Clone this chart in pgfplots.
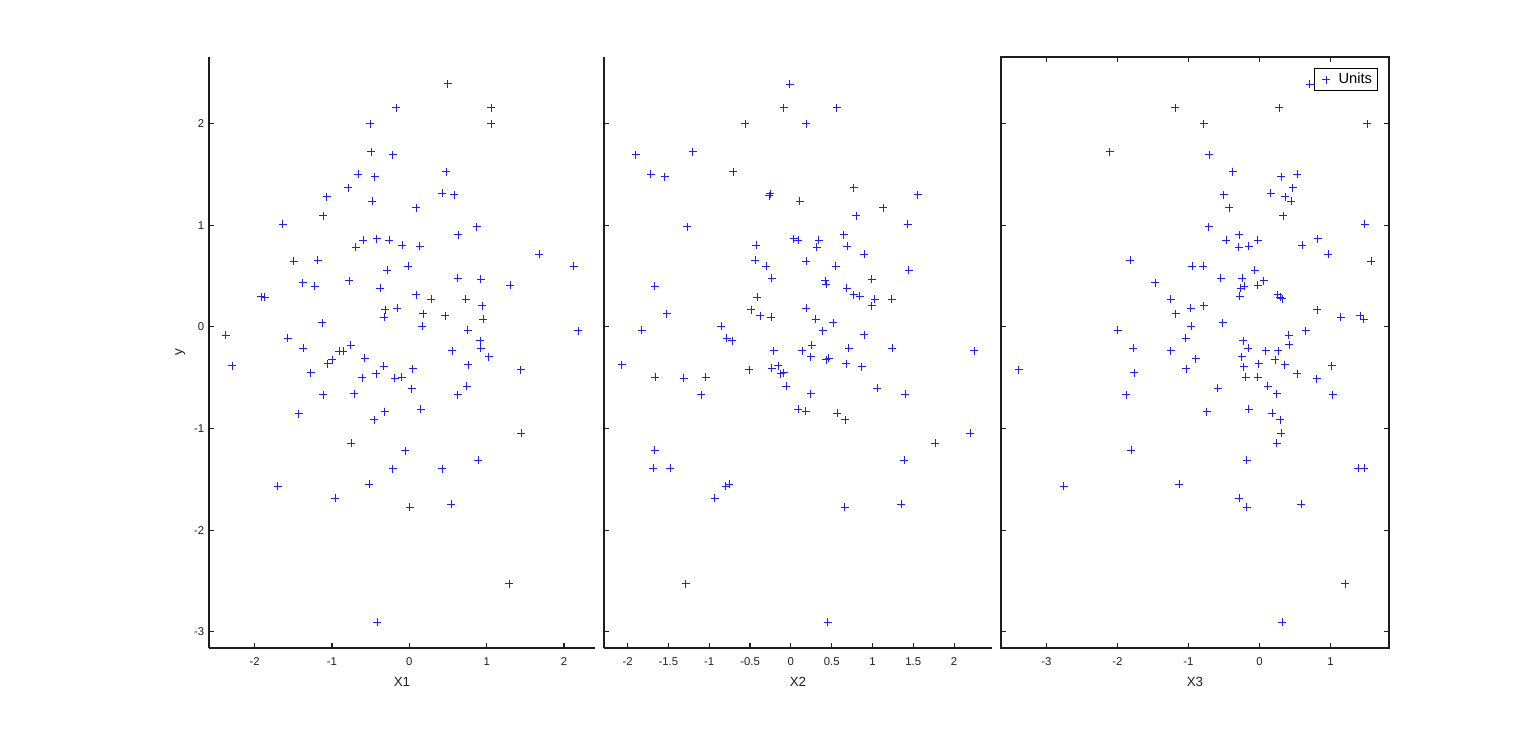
\documentclass[border=0pt]{standalone}
\usepackage{fontspec}
\setmainfont{Liberation Sans}
\usepackage{pgfplots}
\usepackage{pgfplotstable}
\pgfplotsset{compat=1.18}
\definecolor{mblue}{RGB}{30,30,255}
\definecolor{axgray}{RGB}{30,30,30}

\pgfplotstableread{
x y
0.495 2.39
-0.168 2.154
1.058 2.154
-0.503 1.997
1.058 1.997
-0.49 1.722
-0.215 1.693
-0.658 1.5
-0.447 1.477
0.477 1.526
-0.787 1.369
-1.067 1.281
0.426 1.314
0.581 1.301
-0.477 1.235
0.09 1.173
-1.11 1.095
-1.639 1.007
0.869 0.987
0.632 0.908
-0.594 0.853
-0.422 0.869
-0.258 0.85
-0.692 0.781
-0.095 0.801
0.133 0.794
1.682 0.712
-1.497 0.644
-1.183 0.654
2.125 0.595
-0.288 0.556
-0.013 0.595
-1.381 0.435
-1.226 0.402
-0.774 0.454
0.624 0.477
0.925 0.467
1.303 0.412
-0.374 0.379
-1.914 0.297
-1.871 0.291
0.09 0.314
0.284 0.271
0.727 0.271
0.942 0.206
-0.31 0.17
-0.155 0.183
0.181 0.127
0.465 0.108
-0.323 0.095
0.955 0.075
0.168 0.007
-1.127 0.039
-2.374 -0.085
0.753 -0.033
2.185 -0.039
-1.57 -0.111
0.916 -0.137
-1.372 -0.209
-0.903 -0.239
-0.856 -0.239
-0.757 -0.183
0.551 -0.235
0.925 -0.209
1.024 -0.293
-2.293 -0.381
-0.576 -0.309
-1.058 -0.362
-0.994 -0.322
-1.277 -0.45
-0.331 -0.388
-0.426 -0.46
0.043 -0.411
-0.606 -0.499
-0.189 -0.506
-0.099 -0.496
0.761 -0.372
1.437 -0.421
0.03 -0.607
0.744 -0.584
-1.11 -0.666
-0.71 -0.656
0.624 -0.666
-1.428 -0.853
-0.318 -0.833
0.146 -0.813
-0.452 -0.915
1.449 -1.049
-0.748 -1.147
-0.052 -1.219
0.89 -1.314
-0.215 -1.396
0.426 -1.396
-1.703 -1.57
-0.52 -1.55
-0.955 -1.687
0.004 -1.776
0.542 -1.746
1.29 -2.529
-0.413 -2.905
}\dataA

\pgfplotstableread{
x y
-0.012 2.389
-0.085 2.154
0.561 2.154
-0.561 1.997
0.187 1.997
-1.902 1.693
-1.203 1.722
-1.715 1.5
-1.545 1.477
-0.707 1.526
0.768 1.369
-0.252 1.31
-0.268 1.288
1.553 1.301
0.11 1.235
1.13 1.173
0.801 1.095
-1.268 0.987
1.431 1.007
0.646 0.908
0.033 0.869
0.093 0.85
0.341 0.853
-0.427 0.801
0.317 0.781
0.691 0.794
0.902 0.712
-0.439 0.654
-0.305 0.595
0.187 0.644
0.549 0.595
1.443 0.556
-0.232 0.477
0.423 0.454
0.431 0.422
0.992 0.467
-1.667 0.402
0.683 0.379
0.772 0.314
0.846 0.304
-0.411 0.291
1.028 0.271
1.236 0.271
0.988 0.206
-0.484 0.17
0.187 0.183
-1.52 0.127
-0.374 0.108
-0.24 0.095
0.305 0.075
0.516 0.039
-0.854 0.007
0.39 -0.039
-1.829 -0.033
0.902 -0.078
-0.785 -0.111
-0.715 -0.137
0.256 -0.18
-0.211 -0.235
0.142 -0.235
0.707 -0.209
1.24 -0.209
2.248 -0.235
0.244 -0.293
-2.073 -0.372
-1.659 -0.496
-1.313 -0.506
-1.045 -0.496
-0.508 -0.421
-0.232 -0.408
-0.154 -0.381
-0.126 -0.46
-0.085 -0.45
0.431 -0.322
0.463 -0.309
0.675 -0.362
0.87 -0.391
-0.057 -0.584
0.244 -0.656
1.061 -0.604
1.402 -0.663
-1.098 -0.666
0.093 -0.813
0.183 -0.833
0.569 -0.849
0.663 -0.915
2.195 -1.049
1.768 -1.147
-1.667 -1.213
1.39 -1.314
-1.683 -1.393
-1.476 -1.393
-0.797 -1.57
-0.752 -1.55
-0.931 -1.687
0.659 -1.776
1.354 -1.746
-1.289 -2.529
0.451 -2.905
}\dataB

\pgfplotstableread{
x y
0.705 2.389
-1.186 2.154
0.28 2.154
-0.784 1.997
1.512 1.997
-2.11 1.722
-0.709 1.693
-0.378 1.526
0.308 1.477
0.532 1.5
0.467 1.369
-0.504 1.301
0.154 1.314
0.359 1.281
0.443 1.235
-0.429 1.173
0.331 1.095
-0.714 0.987
1.48 1.007
-0.289 0.908
-0.467 0.853
-0.023 0.85
0.821 0.869
-0.294 0.781
-0.154 0.794
0.602 0.801
0.962 0.712
-1.82 0.654
1.573 0.644
-0.947 0.595
-0.793 0.595
-0.07 0.556
-1.466 0.435
-0.546 0.477
-0.247 0.477
0.056 0.454
-0.219 0.402
-0.266 0.379
-0.028 0.412
-1.251 0.271
-0.28 0.301
0.257 0.314
0.289 0.291
0.317 0.275
-0.966 0.183
-0.784 0.206
-1.181 0.127
0.812 0.17
1.144 0.095
1.419 0.108
1.466 0.075
-0.518 0.039
-0.962 0.007
-1.998 -0.033
0.649 -0.039
0.411 -0.082
-1.036 -0.111
-0.229 -0.137
-1.778 -0.209
-1.251 -0.235
-0.159 -0.209
0.084 -0.235
0.261 -0.235
0.42 -0.176
-0.252 -0.293
-0.896 -0.313
-3.389 -0.421
-1.031 -0.411
-1.764 -0.45
-0.224 -0.391
-0.009 -0.362
0.224 -0.322
0.355 -0.372
0.527 -0.46
1.013 -0.381
-0.196 -0.496
-0.023 -0.496
0.803 -0.509
0.117 -0.584
-0.588 -0.604
-1.876 -0.666
0.243 -0.656
1.027 -0.666
-0.742 -0.833
-0.154 -0.813
0.177 -0.849
0.294 -0.912
0.308 -1.049
0.243 -1.147
-1.806 -1.216
-0.182 -1.314
1.386 -1.393
1.475 -1.393
-2.754 -1.57
-1.134 -1.55
-0.289 -1.687
-0.182 -1.776
0.588 -1.746
1.204 -2.529
0.322 -2.905
}\dataC

\begin{document}
\begin{tikzpicture}
\path[use as bounding box] (0,0) rectangle (1152pt,558pt);
\pgfplotsset{
  every axis/.append style={
    scale only axis, height=443.25pt,
    ymin=-3.16, ymax=2.655, ytick={-3,-2,-1,0,1,2},
    tick align=inside, major tick length=3.75pt,
    axis line style={line width=0.9pt, axgray},
    every tick/.style={line width=0.9pt, axgray},
    tick label style={font=\fontsize{8.5}{10}\selectfont, text=axgray},
    xticklabel style={yshift=-4pt},
    label style={font=\fontsize{10}{12}\selectfont, text=axgray},
    xlabel style={yshift=-1.5pt},
    /pgf/number format/assume math mode=true,
    scaled ticks=false,
  },
  pts/.style={only marks, mark=+, mark size=3pt, color=mblue, mark options={line width=0.65pt}},
}
\begin{axis}[at={(156.75pt,72pt)}, anchor=south west, width=289.5pt,
  xmin=-2.59, xmax=2.40, xtick={-2,-1,0,1,2}, axis lines*=left,
  xlabel={X1}, ylabel={y}]
\addplot[pts] table[x=x,y=y] {\dataA};
\end{axis}
\begin{axis}[at={(453pt,72pt)}, anchor=south west, width=291pt,
  xmin=-2.289, xmax=2.464, xtick={-2,-1.5,-1,-0.5,0,0.5,1,1.5,2}, axis lines*=left,
  yticklabels={}, xlabel={X2}]
\addplot[pts] table[x=x,y=y] {\dataB};
\end{axis}
\begin{axis}[at={(750.75pt,72pt)}, anchor=south west, width=291pt,
  xmin=-3.637, xmax=1.821, xtick={-3,-2,-1,0,1}, tick pos=both,
  xticklabel pos=lower, yticklabels={}, xlabel={X3},
  legend style={at={(1,1)}, anchor=north east, xshift=-8.25pt, yshift=-8.25pt,
    draw=black, line width=0.9pt, font=\fontsize{11}{13}\selectfont,
    inner xsep=2pt, inner ysep=1.5pt, cells={anchor=west}}]
\addplot[pts, legend image code/.code={%
  \path (0pt,0pt) (13pt,0pt);
  \draw[mblue, line width=0.65pt] (3.25pt,0pt) -- (9.25pt,0pt) (6.25pt,-3pt) -- (6.25pt,3pt);}]
  table[x=x,y=y] {\dataC};
\addlegendentry{Units}
\end{axis}
\end{tikzpicture}
\end{document}
